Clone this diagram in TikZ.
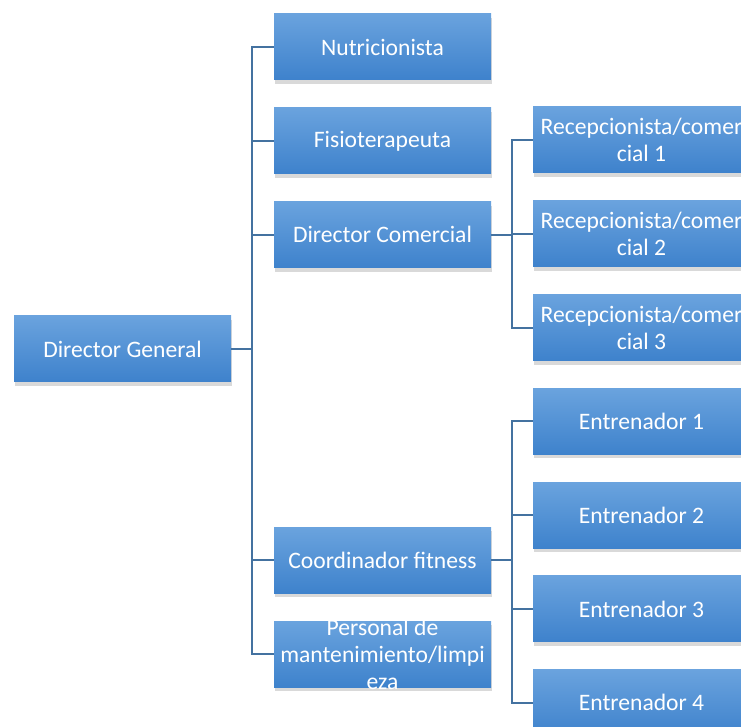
\documentclass[tikz,border=0pt]{standalone}
\usepackage{fontspec}
\setmainfont{Carlito}
\usepackage{tikz}
\usetikzlibrary{positioning}
\usetikzlibrary{shadows}
\definecolor{boxtop}{RGB}{106,163,222}
\definecolor{boxbot}{RGB}{62,130,204}
\definecolor{linkblue}{RGB}{68,114,160}
\tikzset{
    x=0.5pt, y=-0.5pt, % one unit is one pixel of the sheet
    node distance=13.5pt, % Gap between two boxes of a column
    every post/.style={ % Sets the properties for each box
        rectangle,
        minimum width=108.5pt,
        minimum height=33pt,
        inner sep=0pt,
        top color=boxtop,
        bottom color=boxbot,
        drop shadow={shadow xshift=0.6pt, shadow yshift=-2pt, opacity=0.3},
        text=white,
        align=center,
        font=\fontsize{11.8}{13.4}\selectfont
    },
    link/.style={ % Sets the properties for each connector
        draw=linkblue,
        line width=1pt
    }
}

\begin{document}
\begin{tikzpicture}
            \useasboundingbox (0,0) rectangle (741,727);
            \node[every post] (dg) at (122.5,349) {Director General};

            \node[every post] (nut) at (382.5,47) {Nutricionista};
            \node[every post, below=of nut] (fis) {Fisioterapeuta};
            \node[every post, below=of fis] (dc) {Director Comercial};
            \node[every post, below=129.5pt of dc] (cf) {Coordinador fitness};
            \node[every post, below=of cf, inner ysep=-3pt] (per) {Personal de\\mantenimiento/limpi\\eza};

            \node[every post] (rc1) at (641.5,140) {Recepcionista/comer\\cial 1};
            \node[every post, below=of rc1] (rc2) {Recepcionista/comer\\cial 2};
            \node[every post, below=of rc2] (rc3) {Recepcionista/comer\\cial 3};
            \node[every post, below=of rc3] (en1) {Entrenador 1};
            \node[every post, below=of en1] (en2) {Entrenador 2};
            \node[every post, below=of en2] (en3) {Entrenador 3};
            \node[every post, below=of en3] (en4) {Entrenador 4};

            \foreach \c in {nut,fis,dc,cf,per}
                \draw[link] (dg.east) -- ++(21,0) |- (\c.west);
            \foreach \c in {rc1,rc2,rc3}
                \draw[link] (dc.east) -- ++(21,0) |- (\c.west);
            \foreach \c in {en1,en2,en3,en4}
                \draw[link] (cf.east) -- ++(21,0) |- (\c.west);
        \end{tikzpicture}
\end{document}
